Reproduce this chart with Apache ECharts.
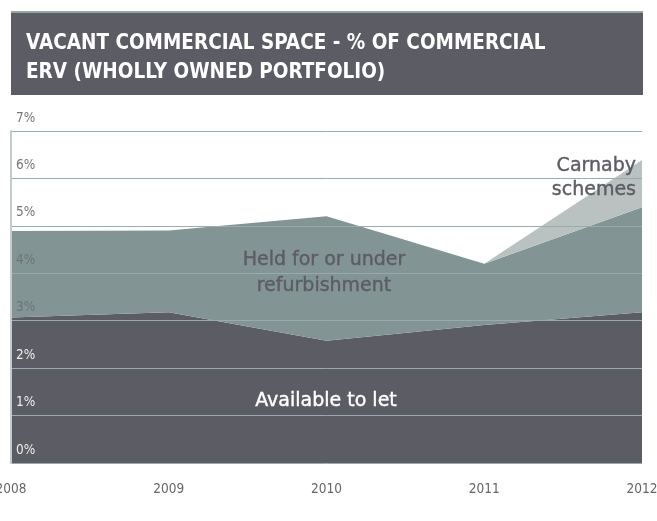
<!DOCTYPE html>
<html>
<head>
<meta charset="utf-8">
<script src="https://cdn.jsdelivr.net/npm/echarts@6/dist/echarts.min.js"></script>
<style>html,body{margin:0;padding:0;background:#fff;}#c{width:657px;height:521px;}</style>
</head>
<body>
<div id="c"></div>
<script>
var years = ['2008', '2009', '2010', '2011', '2012'];
var availableToLet = [3.07, 3.18, 2.58, 2.91, 3.18];
var heldForRefurb = [1.82, 1.72, 2.62, 1.29, 2.21];
var carnabySchemes = [0, 0, 0, 0, 1.0];
var yTicks = [0, 1, 2, 3, 4, 5, 6, 7];

var FONT = "'Liberation Sans Narrow', 'DejaVu Sans Condensed', sans-serif";
var chart = echarts.init(document.getElementById('c'), null, {renderer: 'canvas'});

function areaSeries(name, data, color) {
  return {
    name: name, type: 'line', stack: 'vac', data: data,
    symbol: 'none', smooth: false,
    lineStyle: {width: 0, color: color},
    areaStyle: {color: color, opacity: 1},
    emphasis: {disabled: true}
  };
}

chart.setOption({
  animation: false,
  title: {
    text: 'VACANT COMMERCIAL SPACE - % OF COMMERCIAL\nERV (WHOLLY OWNED PORTFOLIO)',
    left: 21, top: 24,
    textStyle: {color: '#ffffff', fontSize: 20.5, fontWeight: 'bold', fontFamily: 'DejaVu Sans Condensed', lineHeight: 29}
  },
  graphic: [
    {type: 'rect', z: -10, shape: {x: 11, y: 12, width: 632, height: 83}, style: {fill: '#5c5c64'}},
    {type: 'rect', z: -9, shape: {x: 11, y: 11, width: 632, height: 2}, style: {fill: '#93a5a5'}},
    {type: 'text', z: 100, style: {
      text: 'Held for or under\nrefurbishment', x: 324, y: 273, align: 'center', verticalAlign: 'middle',
      fill: '#5c5c64', font: '19px DejaVu Sans', lineHeight: 26, stroke: '#5c5c64', lineWidth: 0.4}},
    {type: 'text', z: 100, style: {
      text: 'Available to let', x: 326, y: 401, align: 'center', verticalAlign: 'middle',
      fill: '#ffffff', font: '19px DejaVu Sans', stroke: '#ffffff', lineWidth: 0.4}},
    {type: 'text', z: 100, style: {
      text: 'Carnaby\nschemes', x: 636, y: 178, align: 'right', verticalAlign: 'middle',
      fill: '#5c5c64', font: '19px DejaVu Sans', lineHeight: 24, stroke: '#5c5c64', lineWidth: 0.4}}
  ],
  grid: {left: 11, right: 15, top: 131, bottom: 58, containLabel: false, outerBoundsMode: 'none'},
  xAxis: {
    type: 'category', data: years, boundaryGap: false,
    axisLine: {show: false}, axisTick: {show: false}, splitLine: {show: false},
    axisLabel: {color: '#666666', fontSize: 13.5, fontFamily: FONT, margin: 19, showMinLabel: true, showMaxLabel: true}
  },
  yAxis: {
    type: 'value', min: 0, max: 7, interval: 1, z: 5,
    axisLine: {show: true, lineStyle: {color: '#c3cbcb', width: 2}},
    axisTick: {show: false},
    splitLine: {show: true, lineStyle: {color: '#9aabab', width: 1}},
    axisLabel: {
      inside: true, margin: 5, fontSize: 13.5, fontFamily: FONT, verticalAlign: 'bottom',
      padding: [0, 0, 6, 0],
      formatter: function (v) { return v + '%'; },
      color: function (v) {
        v = Number(v);
        if (v >= 5) return '#777777';
        if (v >= 3) return '#6b7577';
        return '#ececec';
      }
    }
  },
  series: [
    areaSeries('Available to let', availableToLet, '#5c5c64'),
    areaSeries('Held for or under refurbishment', heldForRefurb, '#839494'),
    areaSeries('Carnaby schemes', carnabySchemes, '#b9c1c1')
  ]
});
</script>
</body>
</html>
